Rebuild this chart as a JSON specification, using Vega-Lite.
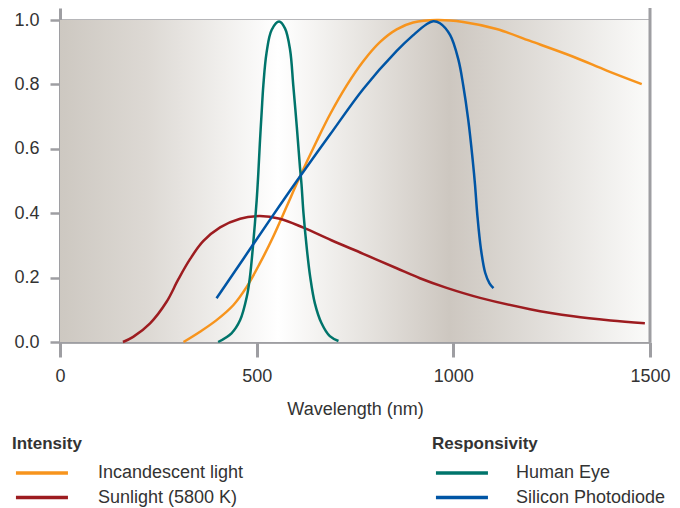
{
  "$schema": "https://vega.github.io/schema/vega-lite/v6.json",
  "width": 590,
  "height": 334,
  "autosize": "none",
  "padding": {"left": 60, "top": 8, "right": 30, "bottom": 166},
  "background": "white",
  "config": {
    "font": "Liberation Sans",
    "view": {"stroke": null},
    "axisX": {
      "grid": false,
      "tickSize": 15,
      "tickWidth": 3,
      "tickColor": "#9e9ea2",
      "domainColor": "#9e9ea2",
      "domainWidth": 2,
      "labelFontSize": 18,
      "labelColor": "#333333",
      "labelPadding": 10,
      "labelFlush": false,
      "titleFontSize": 18,
      "titleFontWeight": "normal",
      "titleColor": "#333333",
      "titlePadding": 15
    },
    "axisY": {
      "grid": true,
      "gridColor": "#9e9ea2",
      "gridWidth": 2.5,
      "gridOpacity": 1,
      "tickSize": 10,
      "tickWidth": 2.5,
      "tickColor": "#9e9ea2",
      "domainColor": "#9e9ea2",
      "domainWidth": 3,
      "labelFontSize": 18,
      "labelColor": "#333333",
      "labelPadding": 11
    }
  },
  "datasets": {
    "curves": [
      {"wl": 314, "value": 0, "series": "Incandescent light", "group": "Intensity"},
      {"wl": 356, "value": 0.032, "series": "Incandescent light", "group": "Intensity"},
      {"wl": 398, "value": 0.068, "series": "Incandescent light", "group": "Intensity"},
      {"wl": 441, "value": 0.115, "series": "Incandescent light", "group": "Intensity"},
      {"wl": 475, "value": 0.172, "series": "Incandescent light", "group": "Intensity"},
      {"wl": 508, "value": 0.244, "series": "Incandescent light", "group": "Intensity"},
      {"wl": 542, "value": 0.327, "series": "Incandescent light", "group": "Intensity"},
      {"wl": 576, "value": 0.42, "series": "Incandescent light", "group": "Intensity"},
      {"wl": 606, "value": 0.503, "series": "Incandescent light", "group": "Intensity"},
      {"wl": 653, "value": 0.625, "series": "Incandescent light", "group": "Intensity"},
      {"wl": 687, "value": 0.708, "series": "Incandescent light", "group": "Intensity"},
      {"wl": 729, "value": 0.797, "series": "Incandescent light", "group": "Intensity"},
      {"wl": 771, "value": 0.872, "series": "Incandescent light", "group": "Intensity"},
      {"wl": 814, "value": 0.932, "series": "Incandescent light", "group": "Intensity"},
      {"wl": 856, "value": 0.971, "series": "Incandescent light", "group": "Intensity"},
      {"wl": 898, "value": 0.992, "series": "Incandescent light", "group": "Intensity"},
      {"wl": 958, "value": 1.0, "series": "Incandescent light", "group": "Intensity"},
      {"wl": 1025, "value": 0.994, "series": "Incandescent light", "group": "Intensity"},
      {"wl": 1110, "value": 0.972, "series": "Incandescent light", "group": "Intensity"},
      {"wl": 1195, "value": 0.935, "series": "Incandescent light", "group": "Intensity"},
      {"wl": 1305, "value": 0.886, "series": "Incandescent light", "group": "Intensity"},
      {"wl": 1390, "value": 0.843, "series": "Incandescent light", "group": "Intensity"},
      {"wl": 1479, "value": 0.801, "series": "Incandescent light", "group": "Intensity"},

      {"wl": 160, "value": 0, "series": "Sunlight (5800 K)", "group": "Intensity"},
      {"wl": 186, "value": 0.016, "series": "Sunlight (5800 K)", "group": "Intensity"},
      {"wl": 229, "value": 0.058, "series": "Sunlight (5800 K)", "group": "Intensity"},
      {"wl": 271, "value": 0.125, "series": "Sunlight (5800 K)", "group": "Intensity"},
      {"wl": 301, "value": 0.195, "series": "Sunlight (5800 K)", "group": "Intensity"},
      {"wl": 331, "value": 0.258, "series": "Sunlight (5800 K)", "group": "Intensity"},
      {"wl": 364, "value": 0.313, "series": "Sunlight (5800 K)", "group": "Intensity"},
      {"wl": 407, "value": 0.356, "series": "Sunlight (5800 K)", "group": "Intensity"},
      {"wl": 458, "value": 0.383, "series": "Sunlight (5800 K)", "group": "Intensity"},
      {"wl": 508, "value": 0.391, "series": "Sunlight (5800 K)", "group": "Intensity"},
      {"wl": 559, "value": 0.383, "series": "Sunlight (5800 K)", "group": "Intensity"},
      {"wl": 619, "value": 0.355, "series": "Sunlight (5800 K)", "group": "Intensity"},
      {"wl": 690, "value": 0.316, "series": "Sunlight (5800 K)", "group": "Intensity"},
      {"wl": 771, "value": 0.274, "series": "Sunlight (5800 K)", "group": "Intensity"},
      {"wl": 856, "value": 0.229, "series": "Sunlight (5800 K)", "group": "Intensity"},
      {"wl": 915, "value": 0.198, "series": "Sunlight (5800 K)", "group": "Intensity"},
      {"wl": 983, "value": 0.168, "series": "Sunlight (5800 K)", "group": "Intensity"},
      {"wl": 1068, "value": 0.137, "series": "Sunlight (5800 K)", "group": "Intensity"},
      {"wl": 1195, "value": 0.102, "series": "Sunlight (5800 K)", "group": "Intensity"},
      {"wl": 1305, "value": 0.08, "series": "Sunlight (5800 K)", "group": "Intensity"},
      {"wl": 1400, "value": 0.067, "series": "Sunlight (5800 K)", "group": "Intensity"},
      {"wl": 1487, "value": 0.058, "series": "Sunlight (5800 K)", "group": "Intensity"},

      {"wl": 402, "value": 0, "series": "Human Eye", "group": "Responsivity"},
      {"wl": 436, "value": 0.027, "series": "Human Eye", "group": "Responsivity"},
      {"wl": 458, "value": 0.068, "series": "Human Eye", "group": "Responsivity"},
      {"wl": 475, "value": 0.141, "series": "Human Eye", "group": "Responsivity"},
      {"wl": 483, "value": 0.203, "series": "Human Eye", "group": "Responsivity"},
      {"wl": 492, "value": 0.317, "series": "Human Eye", "group": "Responsivity"},
      {"wl": 500, "value": 0.44, "series": "Human Eye", "group": "Responsivity"},
      {"wl": 504, "value": 0.52, "series": "Human Eye", "group": "Responsivity"},
      {"wl": 508, "value": 0.615, "series": "Human Eye", "group": "Responsivity"},
      {"wl": 513, "value": 0.72, "series": "Human Eye", "group": "Responsivity"},
      {"wl": 517, "value": 0.798, "series": "Human Eye", "group": "Responsivity"},
      {"wl": 525, "value": 0.897, "series": "Human Eye", "group": "Responsivity"},
      {"wl": 538, "value": 0.969, "series": "Human Eye", "group": "Responsivity"},
      {"wl": 557, "value": 0.995, "series": "Human Eye", "group": "Responsivity"},
      {"wl": 572, "value": 0.974, "series": "Human Eye", "group": "Responsivity"},
      {"wl": 585, "value": 0.907, "series": "Human Eye", "group": "Responsivity"},
      {"wl": 593, "value": 0.798, "series": "Human Eye", "group": "Responsivity"},
      {"wl": 602, "value": 0.669, "series": "Human Eye", "group": "Responsivity"},
      {"wl": 610, "value": 0.544, "series": "Human Eye", "group": "Responsivity"},
      {"wl": 614, "value": 0.49, "series": "Human Eye", "group": "Responsivity"},
      {"wl": 619, "value": 0.4, "series": "Human Eye", "group": "Responsivity"},
      {"wl": 627, "value": 0.296, "series": "Human Eye", "group": "Responsivity"},
      {"wl": 636, "value": 0.203, "series": "Human Eye", "group": "Responsivity"},
      {"wl": 648, "value": 0.12, "series": "Human Eye", "group": "Responsivity"},
      {"wl": 665, "value": 0.058, "series": "Human Eye", "group": "Responsivity"},
      {"wl": 686, "value": 0.018, "series": "Human Eye", "group": "Responsivity"},
      {"wl": 708, "value": 0.003, "series": "Human Eye", "group": "Responsivity"},

      {"wl": 398, "value": 0.136, "series": "Silicon Photodiode", "group": "Responsivity"},
      {"wl": 466, "value": 0.258, "series": "Silicon Photodiode", "group": "Responsivity"},
      {"wl": 534, "value": 0.38, "series": "Silicon Photodiode", "group": "Responsivity"},
      {"wl": 602, "value": 0.5, "series": "Silicon Photodiode", "group": "Responsivity"},
      {"wl": 687, "value": 0.645, "series": "Silicon Photodiode", "group": "Responsivity"},
      {"wl": 771, "value": 0.786, "series": "Silicon Photodiode", "group": "Responsivity"},
      {"wl": 856, "value": 0.904, "series": "Silicon Photodiode", "group": "Responsivity"},
      {"wl": 898, "value": 0.953, "series": "Silicon Photodiode", "group": "Responsivity"},
      {"wl": 932, "value": 0.987, "series": "Silicon Photodiode", "group": "Responsivity"},
      {"wl": 949, "value": 0.996, "series": "Silicon Photodiode", "group": "Responsivity"},
      {"wl": 966, "value": 0.99, "series": "Silicon Photodiode", "group": "Responsivity"},
      {"wl": 992, "value": 0.953, "series": "Silicon Photodiode", "group": "Responsivity"},
      {"wl": 1013, "value": 0.876, "series": "Silicon Photodiode", "group": "Responsivity"},
      {"wl": 1025, "value": 0.798, "series": "Silicon Photodiode", "group": "Responsivity"},
      {"wl": 1038, "value": 0.689, "series": "Silicon Photodiode", "group": "Responsivity"},
      {"wl": 1049, "value": 0.568, "series": "Silicon Photodiode", "group": "Responsivity"},
      {"wl": 1055, "value": 0.49, "series": "Silicon Photodiode", "group": "Responsivity"},
      {"wl": 1061, "value": 0.395, "series": "Silicon Photodiode", "group": "Responsivity"},
      {"wl": 1070, "value": 0.29, "series": "Silicon Photodiode", "group": "Responsivity"},
      {"wl": 1081, "value": 0.215, "series": "Silicon Photodiode", "group": "Responsivity"},
      {"wl": 1092, "value": 0.182, "series": "Silicon Photodiode", "group": "Responsivity"},
      {"wl": 1102, "value": 0.167, "series": "Silicon Photodiode", "group": "Responsivity"}
    ]
  },
  "layer": [
    {
      "data": {"values": [{}]},
      "mark": {
        "type": "rect",
        "color": {
          "gradient": "linear",
          "x1": 0, "y1": 0, "x2": 1, "y2": 0,
          "stops": [
            {"offset": 0, "color": "#cdc8c1"},
            {"offset": 0.15, "color": "#ddd9d4"},
            {"offset": 0.37, "color": "#ffffff"},
            {"offset": 0.52, "color": "#e6e3df"},
            {"offset": 0.66, "color": "#cdc7c0"},
            {"offset": 0.82, "color": "#e2dfdb"},
            {"offset": 1, "color": "#fbfbfa"}
          ]
        }
      },
      "encoding": {
        "x": {
          "datum": 0, "type": "quantitative",
          "scale": {"domain": [0, 1500], "nice": false},
          "title": "Wavelength (nm)",
          "axis": {"values": [0, 500, 1000, 1500], "format": "d"}
        },
        "x2": {"datum": 1500},
        "y": {
          "datum": 0, "type": "quantitative",
          "scale": {"domain": [0, 1.0373], "nice": false, "zero": false},
          "title": null,
          "axis": {"values": [0, 0.2, 0.4, 0.6, 0.8, 1.0], "format": ".1f"}
        },
        "y2": {"datum": 1}
      }
    },
    {
      "data": {"values": [{}]},
      "mark": {"type": "rule", "color": "#9e9ea2", "strokeWidth": 3},
      "encoding": {
        "x": {"datum": 1500, "type": "quantitative", "title": "Wavelength (nm)"},
        "y": {"datum": 0, "type": "quantitative", "title": null},
        "y2": {"datum": 1.0373}
      }
    },
    {
      "data": {"name": "curves"},
      "transform": [{"filter": "datum.group === 'Intensity'"}],
      "mark": {"type": "line", "interpolate": "catmull-rom", "strokeWidth": 2.5},
      "encoding": {
        "x": {"field": "wl", "type": "quantitative", "title": "Wavelength (nm)"},
        "y": {"field": "value", "type": "quantitative", "title": null},
        "detail": {"field": "series"},
        "color": {
          "field": "series",
          "type": "nominal",
          "scale": {"domain": ["Incandescent light", "Sunlight (5800 K)"], "range": ["#f7941d", "#9d1c20"]},
          "legend": {
            "title": "Intensity",
            "orient": "none",
            "legendX": -48,
            "legendY": 428,
            "symbolType": "M-0.85,0H3.15",
            "symbolSize": 676,
            "symbolStrokeWidth": 3.5,
            "labelFontSize": 18,
            "labelColor": "#333333",
            "labelOffset": 56,
            "titleFontSize": 17,
            "titleFontWeight": "bold",
            "titleColor": "#333333",
            "titlePadding": 5,
            "rowPadding": 0.5
          }
        }
      }
    },
    {
      "data": {"name": "curves"},
      "transform": [{"filter": "datum.group === 'Responsivity'"}],
      "mark": {"type": "line", "interpolate": "catmull-rom", "strokeWidth": 2.5},
      "encoding": {
        "x": {"field": "wl", "type": "quantitative", "title": "Wavelength (nm)"},
        "y": {"field": "value", "type": "quantitative", "title": null},
        "detail": {"field": "series"},
        "color": {
          "field": "series",
          "type": "nominal",
          "scale": {"domain": ["Human Eye", "Silicon Photodiode"], "range": ["#00746b", "#0055a5"]},
          "legend": {
            "title": "Responsivity",
            "orient": "none",
            "legendX": 372,
            "legendY": 428,
            "symbolType": "M-0.85,0H3.15",
            "symbolSize": 676,
            "symbolStrokeWidth": 3.5,
            "labelFontSize": 18,
            "labelColor": "#333333",
            "labelOffset": 54,
            "titleFontSize": 17,
            "titleFontWeight": "bold",
            "titleColor": "#333333",
            "titlePadding": 5,
            "rowPadding": 0.5
          }
        }
      }
    }
  ],
  "resolve": {"scale": {"color": "independent"}}
}
